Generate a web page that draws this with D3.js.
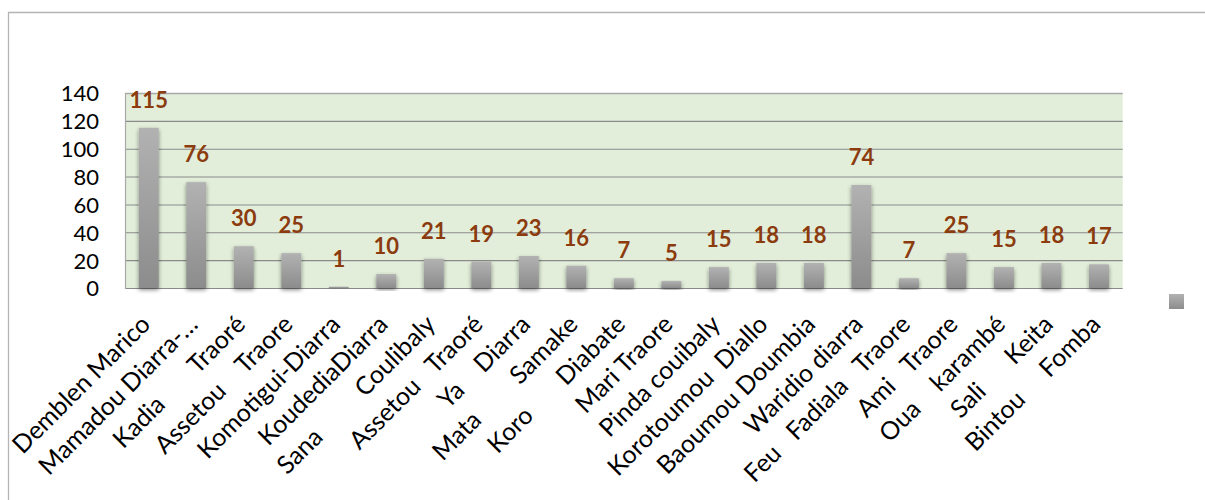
<!DOCTYPE html>
<html>
<head>
<meta charset="utf-8">
<script src="https://cdn.jsdelivr.net/npm/d3@7"></script>
<style>
  html, body { margin: 0; padding: 0; background: #ffffff; }
  svg { display: block; }
  .xl text { white-space: pre; }
</style>
</head>
<body>
<div id="chart"></div>
<script>
const categories = [
  "Demblen Marico",
  "Mamadou Diarra-…",
  "Kadia       Traoré",
  "Assetou    Traore",
  "Komotigui-Diarra",
  "KoudediaDiarra",
  "Sana         Coulibaly",
  "Assetou   Traoré",
  "Ya    Diarra\nMata                ",
  "Samake\nKoro               ",
  "Diabate",
  "Mari Traore",
  "Pinda couibaly",
  "Korotoumou  Diallo",
  "Baoumou Doumbia",
  "Waridio diarra",
  "Feu   Fadiala   Traore",
  "Ami   Traore",
  "Oua    karambé",
  "Sali      Keita",
  "Bintou     Fomba"
];
const values = [115, 76, 30, 25, 1, 10, 21, 19, 23, 16, 7, 5, 15, 18, 18, 74, 7, 25, 15, 18, 17];
const yTicks = [0, 20, 40, 60, 80, 100, 120, 140];

const W = 1205, H = 500;
const plot = { left: 125, right: 1122.7, top: 93, bottom: 288 };
const FONT = "Lato, 'Open Sans', sans-serif";

const svg = d3.select("#chart").append("svg").attr("width", W).attr("height", H);
const defs = svg.append("defs");

const grad = defs.append("linearGradient").attr("id", "barGrad")
  .attr("x1", 0).attr("y1", 0).attr("x2", 0).attr("y2", 1);
grad.append("stop").attr("offset", "0%").attr("stop-color", "#b2b2b2");
grad.append("stop").attr("offset", "100%").attr("stop-color", "#8c8c8c");

const f = defs.append("filter").attr("id", "shadow")
  .attr("x", "-50%").attr("y", "-20%").attr("width", "200%").attr("height", "140%");
f.append("feGaussianBlur").attr("in", "SourceAlpha").attr("stdDeviation", 2.2).attr("result", "blur");
f.append("feOffset").attr("in", "blur").attr("dx", 0).attr("dy", 1.5).attr("result", "off");
f.append("feComponentTransfer").attr("in", "off").attr("result", "soft")
  .append("feFuncA").attr("type", "linear").attr("slope", 0.45);
const fm = f.append("feMerge");
fm.append("feMergeNode").attr("in", "soft");
fm.append("feMergeNode").attr("in", "SourceGraphic");

// outer chart border (left and top)
svg.append("path")
  .attr("d", `M8.5,${H} L8.5,12.5 L${W},12.5`)
  .attr("fill", "none").attr("stroke", "#b4b4b4").attr("stroke-width", 1.3);

const x = d3.scaleBand().domain(d3.range(categories.length))
  .range([plot.left, plot.right]).paddingInner(0.58).paddingOuter(0.29);
const y = d3.scaleLinear().domain([0, 140]).range([plot.bottom, plot.top]);

// plot background
svg.append("rect")
  .attr("x", plot.left).attr("y", plot.top)
  .attr("width", plot.right - plot.left).attr("height", plot.bottom - plot.top)
  .attr("fill", "#e2eed9");

// gridlines
svg.append("g").selectAll("line").data(yTicks).join("line")
  .attr("x1", plot.left).attr("x2", plot.right)
  .attr("y1", d => y(d) + 0.5).attr("y2", d => y(d) + 0.5)
  .attr("stroke", d => d === 140 ? "#a8a8a8" : "#8a8a8a")
  .attr("stroke-width", d => d === 140 ? 1.6 : 1.1);

// left axis line
svg.append("line")
  .attr("x1", plot.left + 0.5).attr("x2", plot.left + 0.5)
  .attr("y1", plot.top).attr("y2", plot.bottom + 1)
  .attr("stroke", "#a8a8a8").attr("stroke-width", 1.2);

// y axis labels
const yAxis = d3.axisLeft(y).tickValues(yTicks).tickSize(0).tickPadding(0);
const yg = svg.append("g").attr("transform", `translate(${plot.left - 26},0)`).call(yAxis);
yg.select(".domain").remove();
yg.selectAll("text")
  .attr("font-family", FONT).attr("font-size", 22).attr("fill", "#000")
  .attr("dy", "0.36em");

// bars
svg.append("g").selectAll("rect").data(values).join("rect")
  .attr("x", (d, i) => x(i))
  .attr("width", x.bandwidth())
  .attr("y", d => y(d))
  .attr("height", d => y(0) - y(d))
  .attr("fill", "url(#barGrad)")
  .attr("filter", "url(#shadow)");

// value labels
svg.append("g").selectAll("text").data(values).join("text")
  .attr("x", (d, i) => x(i) + x.bandwidth() / 2)
  .attr("y", d => y(d) - 20)
  .attr("text-anchor", "middle")
  .attr("font-family", FONT).attr("font-weight", "bold").attr("font-size", 22)
  .attr("fill", "#8b3b0e")
  .text(d => d);

// category labels
const xl = svg.append("g").attr("class", "xl");
categories.forEach((c, i) => {
  const cx = x(i) + x.bandwidth() / 2 + 3;
  const t = xl.append("text")
    .attr("transform", `translate(${cx},326) rotate(-45)`)
    .attr("text-anchor", "end")
    .attr("font-family", FONT).attr("font-size", 25).attr("fill", "#000");
  c.split("\n").forEach((line, k) => {
    t.append("tspan").attr("x", 0).attr("dy", k === 0 ? 0 : "1.32em").text(line);
  });
});

// legend marker
svg.append("rect")
  .attr("x", 1169).attr("y", 294).attr("width", 15).attr("height", 15)
  .attr("fill", "url(#barGrad)");
</script>
</body>
</html>
